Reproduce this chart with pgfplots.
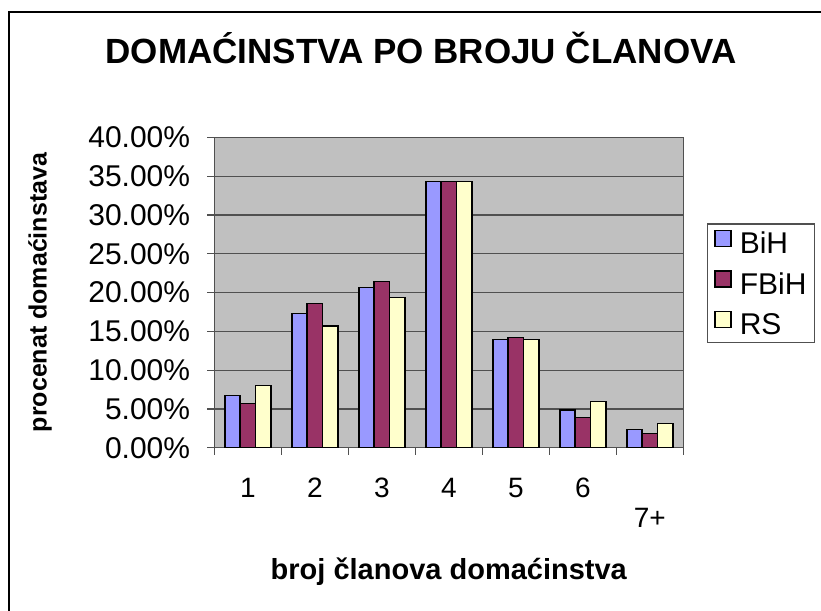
\documentclass[border=0pt]{standalone}
\usepackage{pgfplots}
\pgfplotsset{compat=1.18}
\usepackage{fontspec}
\setmainfont{Liberation Sans}
\definecolor{bih}{HTML}{9999FF}
\definecolor{fbih}{HTML}{993366}
\definecolor{rs}{HTML}{FFFFCC}
\definecolor{plotbg}{HTML}{C0C0C0}
\definecolor{gridc}{HTML}{505050}
\begin{document}
\begin{tikzpicture}[x=1pt,y=1pt]
\useasboundingbox (0,0) rectangle (821,610);
\draw[line width=2pt] (9.3,-10) -- (9.3,597.5) -- (835,597.5);
\begin{axis}[
  at={(214.3pt,162.3pt)}, anchor=south west,
  scale only axis, width=469pt, height=310.4pt,
  ybar=0pt, bar width=15.3pt,
  xmin=-0.5, xmax=6.5, ymin=0, ymax=40,
  axis background/.style={fill=plotbg},
  axis line style={draw=gridc, line width=1.2pt},
  ymajorgrids, grid style={draw=gridc, line width=1.2pt},
  tick align=outside, major tick length=7pt,
  xtick pos=bottom, ytick pos=left,
  tick style={draw=gridc, line width=1.2pt},
  xtick={-0.5,0.5,...,6.5}, xticklabels={},
  extra x ticks={0,1,2,3,4,5,6},
  extra x tick labels={1,2,3,4,5,6,{\raisebox{-30pt}[\height][0pt]{7+}}},
  extra x tick style={tick style={draw=none}, grid=none},
  xticklabel style={font=\fontsize{28}{28}\selectfont, inner sep=0pt, yshift=-23pt},
  ytick={0,5,...,40},
  yticklabels={0.00\%,5.00\%,10.00\%,15.00\%,20.00\%,25.00\%,30.00\%,35.00\%,40.00\%},
  yticklabel style={font=\fontsize{30}{30}\selectfont, inner sep=0pt, xshift=-17pt},
  xlabel={broj članova domaćinstva},
  xlabel style={at={(axis description cs:0.5,-0.4005)}, anchor=center, font=\fontsize{29}{29}\selectfont\bfseries},
  ylabel={procenat domaćinstava},
  ylabel style={at={(axis description cs:-0.3716,0.5)}, anchor=center, font=\fontsize{25}{25}\selectfont\bfseries},
  title={DOMAĆINSTVA PO BROJU ČLANOVA},
  title style={at={(axis description cs:0.4407,1.2200)}, anchor=base, font=\fontsize{35}{35}\selectfont\bfseries},
  legend style={at={(axis description cs:1.0499,0.7229)}, anchor=north west,
    draw=gridc, line width=1.2pt, font=\fontsize{30}{30}\selectfont,
    inner xsep=7pt, inner ysep=6pt, row sep=14pt, column sep=7pt,
    nodes={inner sep=1pt}},
  legend cell align=left,
  legend image code/.code={\draw[#1, line width=1.5pt] (0pt,-3pt) rectangle (16pt,13pt);},
]
\addplot[fill=bih, draw=black, line width=1.5pt] coordinates {(0,6.70) (1,17.27) (2,20.62) (3,34.28) (4,13.92) (5,4.85) (6,2.32)};
\addplot[fill=fbih, draw=black, line width=1.5pt] coordinates {(0,5.67) (1,18.56) (2,21.39) (3,34.28) (4,14.18) (5,3.91) (6,1.80)};
\addplot[fill=rs, draw=black, line width=1.5pt] coordinates {(0,7.99) (1,15.68) (2,19.33) (3,34.28) (4,13.92) (5,5.93) (6,3.09)};
\legend{BiH,FBiH,RS}
\end{axis}
\end{tikzpicture}
\end{document}
